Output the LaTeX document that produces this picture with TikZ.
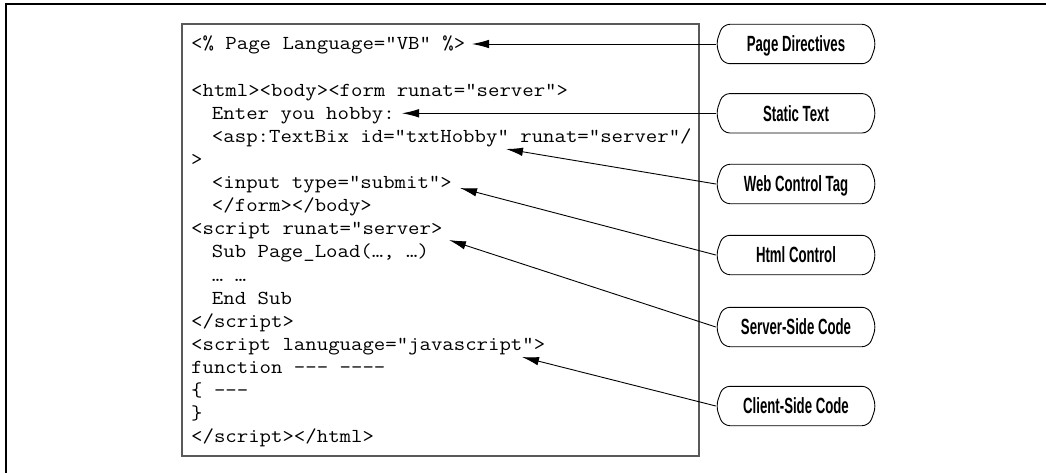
\documentclass[tikz,border=0pt]{standalone}
\usepackage{fontspec}
\setmonofont[FakeStretch=1.12]{Latin Modern Mono}
\newfontfamily\tagfont[FakeStretch=0.6]{Liberation Sans}
\usetikzlibrary{arrows.meta}
\newcommand\codeindent{\hspace*{1.05em}}

\begin{document}
\begin{tikzpicture}[x=1pt,y=-1pt]
\tikzset{codeline/.style={anchor=base west, inner sep=0pt, text height=12pt, text depth=0pt,
    font=\ttfamily\fontsize{19.8}{23.1}\selectfont},
  tagbox/.style={minimum width=160pt, minimum height=39pt, inner sep=0pt,
    text height=15.5pt, text depth=0pt, font=\tagfont\bfseries\fontsize{22}{26}\selectfont},
  tagarrow/.style={-{Latex[length=17pt,width=8.5pt]}, line width=0.9pt}}
\useasboundingbox (0,0) rectangle (1046,473);
\draw[line width=2pt] (5.5,473) -- (5.5,4.5) -- (1046,4.5);
\draw[line width=1.3pt, black!65] (182,24) rectangle (699,456);
% the page source
\node[codeline] (L1) at (191,50) {<\% Page Language="VB" \%>};
\node[codeline] (L3) at (191,96.2) {<html><body><form runat="server">};
\node[codeline] (L4) at (191,119.3) {\codeindent Enter you hobby:};
\node[codeline] (L5) at (191,142.4) {\codeindent <asp:TextBix id="txtHobby" runat="server"/};
\node[codeline] (L6) at (191,165.5) {>};
\node[codeline] (L7) at (191,188.6) {\codeindent <input type="submit">};
\node[codeline] (L8) at (191,211.7) {\codeindent </form></body>};
\node[codeline] (L9) at (191,234.8) {<script runat="server>};
\node[codeline] (L10) at (191,257.9) {\codeindent Sub Page\_Load(…, …)};
\node[codeline] (L11) at (191,281.0) {\codeindent … …};
\node[codeline] (L12) at (191,304.1) {\codeindent End Sub};
\node[codeline] (L13) at (191,327.2) {</script>};
\node[codeline] (L14) at (191,350.3) {<script lanuguage="javascript">};
\node[codeline] (L15) at (191,373.4) {function --- ----};
\node[codeline] (L16) at (191,396.5) {\{ ---};
\node[codeline] (L17) at (191,419.6) {\}};
\node[codeline] (L18) at (191,442.7) {</script></html>};
% the callouts
\node[tagbox] (pd) at (796,44) {Page Directives};
\node[tagbox] (st) at (796,113.3) {Static Text};
\node[tagbox] (wct) at (796,184) {Web Control Tag};
\node[tagbox] (hc) at (796,255) {Html Control};
\node[tagbox] (ssc) at (796,327) {Server-Side Code};
\node[tagbox] (csc) at (796,406) {Client-Side Code};
\foreach \n in {pd,st,wct,hc,ssc,csc}
  \draw[line width=0.9pt, rounded corners=7pt] (\n.north) -- ([xshift=-7pt]\n.north east)
    -- (\n.east) -- ([xshift=-7pt]\n.south east) -- ([xshift=7pt]\n.south west)
    -- (\n.west) -- ([xshift=7pt]\n.north west) -- cycle;
\coordinate (tippd) at (472,44);
\coordinate (tipst) at (402,113.3);
\coordinate (tipwct) at (506,149);
\coordinate (tiphc) at (460,188);
\coordinate (tipssc) at (449,240);
\coordinate (tipcsc) at (522,357);
\draw[tagarrow] (pd.west) -- (tippd);
\draw[tagarrow] (st.west) -- (tipst);
\draw[tagarrow] (wct.west) -- (tipwct);
\draw[tagarrow] (hc.west) -- (tiphc);
\draw[tagarrow] (ssc.west) -- (tipssc);
\draw[tagarrow] (csc.west) -- (tipcsc);
\end{tikzpicture}
\end{document}
